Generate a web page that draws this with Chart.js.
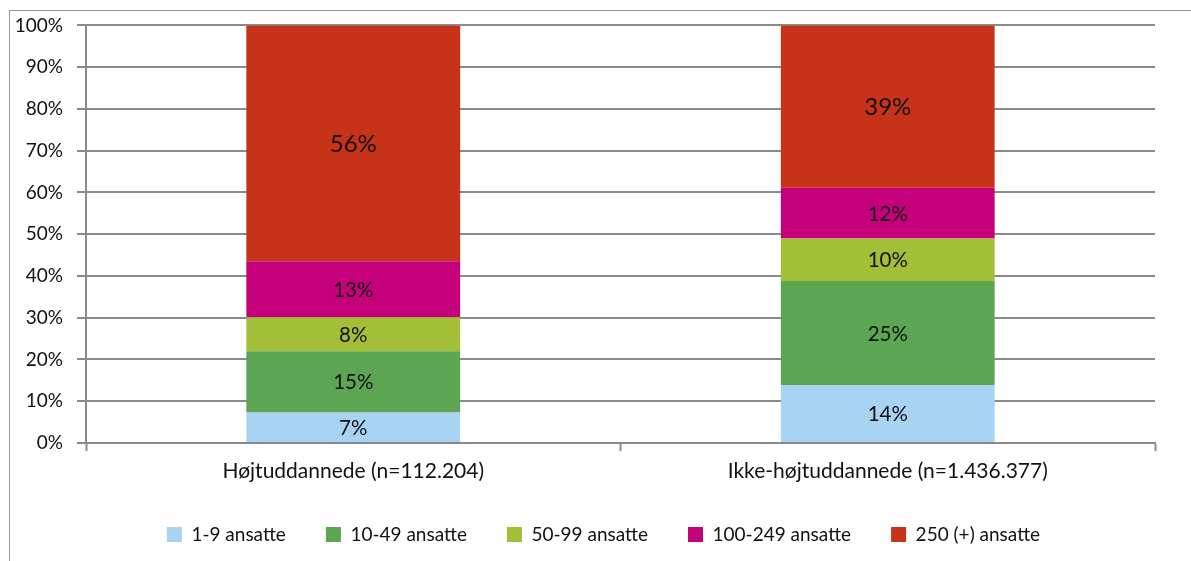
<!DOCTYPE html>
<html>
<head>
<meta charset="utf-8">
<script src="https://cdn.jsdelivr.net/npm/chart.js@4.4.1/dist/chart.umd.min.js"></script>
<style>
  html, body { margin: 0; padding: 0; background: #fff; }
  #wrap { position: relative; width: 1191px; height: 561px; }
  #frame { position: absolute; left: 9px; top: 10px; width: 1200px; height: 600px;
           border-left: 1px solid #999; border-top: 1px solid #999; pointer-events: none; }
</style>
</head>
<body>
<div id="wrap">
  <canvas id="chart" width="1191" height="561"></canvas>
  <div id="frame"></div>
</div>
<script>
// data
const categories = ["Højtuddannede (n=112.204)", "Ikke-højtuddannede (n=1.436.377)"];
const seriesNames = ["1-9 ansatte", "10-49 ansatte", "50-99 ansatte", "100-249 ansatte", "250 (+) ansatte"];
const size1to9 = [7.3, 13.9];
const size10to49 = [14.7, 24.9];
const size50to99 = [8.1, 10.2];
const size100to249 = [13.45, 12.1];
const size250plus = [56.45, 38.9];
const yTicks = [0, 10, 20, 30, 40, 50, 60, 70, 80, 90, 100];

const colors = ["#a9d3f3", "#5ba553", "#a3bf37", "#c4007a", "#c73318"];
const seriesValues = [size1to9, size10to49, size50to99, size100to249, size250plus];

const font = "Lato, 'Open Sans', sans-serif";
const gridCol = "#8a8a8a";

// percent labels in each segment (the top series uses a bigger font, as in the original)
const segLabels = {
  id: "segLabels",
  afterDatasetsDraw(chart) {
    const ctx = chart.ctx;
    ctx.save();
    ctx.fillStyle = "#111";
    ctx.textAlign = "center";
    ctx.textBaseline = "middle";
    const last = chart.data.datasets.length - 1;
    chart.data.datasets.forEach((ds, i) => {
      ctx.font = (i === last ? "24px " : "20.5px ") + font;
      chart.getDatasetMeta(i).data.forEach((bar, j) => {
        const mid = (bar.y + bar.base) / 2;
        ctx.fillText(Math.round(ds.data[j]) + "%", bar.x, mid + 1);
      });
    });
    ctx.restore();
  }
};

// legend sits a bit right of the plot centre and a little higher in the original
const shiftLegend = {
  id: "shiftLegend",
  afterLayout(chart) {
    const lg = chart.legend;
    lg.left += 26;
    lg.right += 26;
    lg.top -= 7;
    lg.bottom -= 7;
  }
};

new Chart(document.getElementById("chart"), {
  type: "bar",
  data: {
    labels: categories,
    datasets: seriesNames.map((name, i) => ({
      label: name,
      data: seriesValues[i],
      backgroundColor: colors[i],
      borderWidth: 0,
      barPercentage: 0.4,
      categoryPercentage: 1.0
    }))
  },
  options: {
    responsive: false,
    animation: false,
    layout: { padding: { left: 0, right: 36, top: 24, bottom: 0 } },
    plugins: {
      tooltip: { enabled: false },
      legend: {
        position: "bottom",
        labels: {
          font: { family: font, size: 19 },
          color: "#111",
          boxWidth: 15,
          boxHeight: 15,
          padding: 40
        }
      }
    },
    scales: {
      x: {
        stacked: true,
        grid: { offset: true, drawOnChartArea: false, color: gridCol, tickLength: 8, tickWidth: 2 },
        border: { color: gridCol, width: 2 },
        ticks: { font: { family: font, size: 21, lineHeight: 1 }, color: "#111", padding: 10 }
      },
      y: {
        stacked: true,
        min: 0,
        max: 100,
        afterFit(scale) { scale.width = 86; },
        afterBuildTicks(scale) { scale.ticks = yTicks.map(v => ({ value: v })); },
        grid: { color: gridCol, lineWidth: 2, tickLength: 9 },
        border: { color: gridCol, width: 2 },
        ticks: {
          font: { family: font, size: 19 },
          color: "#111",
          padding: 14,
          callback: v => v + "%"
        }
      }
    }
  },
  plugins: [segLabels, shiftLegend]
});
</script>
</body>
</html>
